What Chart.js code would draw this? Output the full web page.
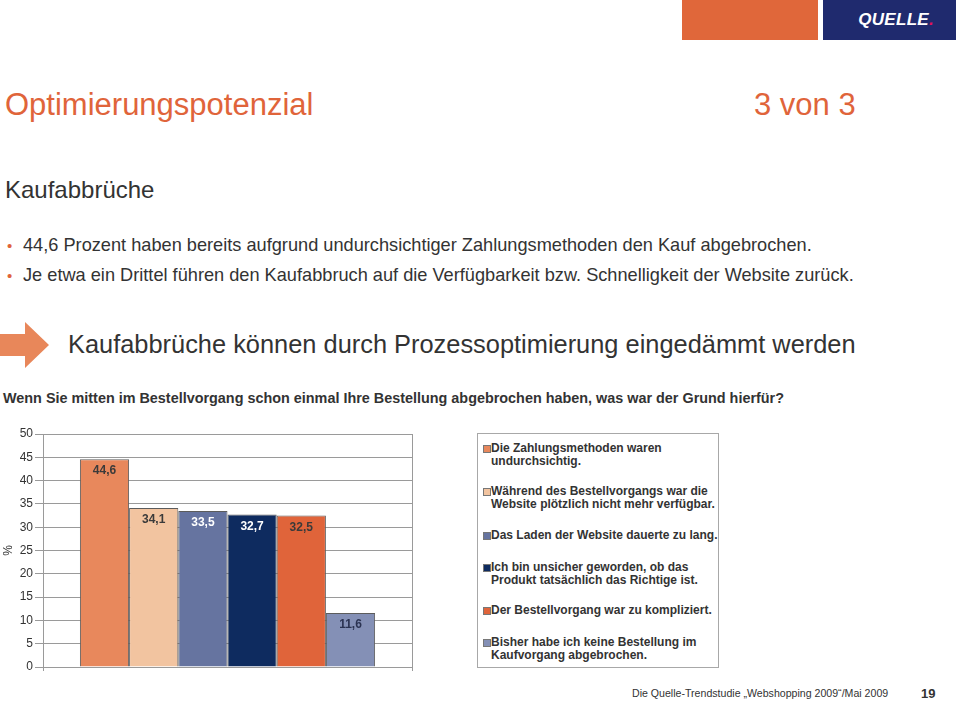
<!DOCTYPE html>
<html lang="de">
<head>
<meta charset="utf-8">
<script src="https://cdn.jsdelivr.net/npm/chart.js@4/dist/chart.umd.min.js"></script>
<style>
  html, body { margin: 0; padding: 0; background: #fff; }
  body { width: 960px; height: 701px; position: relative; overflow: hidden; font-family: "Liberation Sans", Arial, sans-serif; color: #333; }
  .abs { position: absolute; white-space: nowrap; }
  #hdrOrange { left: 682px; top: 0; width: 136px; height: 40px; background: #e0673a; }
  #hdrLogo { left: 823px; top: 0; width: 133px; height: 40px; background: #1f2a6e; color: #fff; font-weight: bold; font-style: italic; font-size: 17px; line-height: 40px; text-align: right; box-sizing: border-box; padding-right: 22px; letter-spacing: 0.3px; }
  #hdrLogo span { color: #e2105a; }
  #title { left: 5px; top: 87px; font-size: 31px; color: #e0643a; }
  #page { left: 754px; top: 87px; font-size: 31px; color: #e0643a; }
  #sub { left: 5px; top: 176px; font-size: 24px; color: #333; }
  .bullet { left: 23px; font-size: 18.2px; color: #333; }
  .bullet::before { content: "•"; color: #e0643a; position: absolute; left: -16px; font-size: 15px; top: 2px; }
  #arrow { left: 0; top: 322px; width: 50px; height: 46px; }
  #head2 { left: 68px; top: 330px; font-size: 25.4px; color: #333; }
  #question { left: 3px; top: 390px; font-size: 14.4px; font-weight: bold; color: #333; }
  #chartBox { left: 0; top: 420px; width: 470px; height: 262px; }
  #legend { left: 477px; top: 433px; width: 242px; height: 235px; border: 1px solid #a8a8a8; box-sizing: border-box; }
  .li { position: absolute; left: 13px; font-size: 12px; font-weight: bold; line-height: 13px; color: #333; white-space: nowrap; }
  .li i { position: absolute; left: -8px; top: 3px; width: 6px; height: 6px; border: 0.5px solid #777; }
  #foot { left: 632px; top: 687px; font-size: 10.6px; color: #333; }
  #pnum { left: 921px; top: 686px; font-size: 13px; font-weight: bold; color: #333; }
</style>
</head>
<body>
<div class="abs" id="hdrOrange"></div>
<div class="abs" id="hdrLogo">QUELLE<span>.</span></div>
<div class="abs" id="title">Optimierungspotenzial</div>
<div class="abs" id="page">3 von 3</div>
<div class="abs" id="sub">Kaufabbrüche</div>
<div class="abs bullet" style="top:235px">44,6 Prozent haben bereits aufgrund undurchsichtiger Zahlungsmethoden den Kauf abgebrochen.</div>
<div class="abs bullet" style="top:265px">Je etwa ein Drittel führen den Kaufabbruch auf die Verfügbarkeit bzw. Schnelligkeit der Website zurück.</div>
<svg class="abs" id="arrow" viewBox="0 0 50 46"><polygon points="0,12 25,12 25,0 49,23 25,46 25,34 0,34" fill="#e8875a"/></svg>
<div class="abs" id="head2">Kaufabbrüche können durch Prozessoptimierung eingedämmt werden</div>
<div class="abs" id="question">Wenn Sie mitten im Bestellvorgang schon einmal Ihre Bestellung abgebrochen haben, was war der Grund hierfür?</div>
<div class="abs" id="chartBox"><canvas id="chart"></canvas></div>
<div class="abs" id="legend"></div>
<div class="abs" id="foot">Die Quelle-Trendstudie „Webshopping 2009“/Mai 2009</div>
<div class="abs" id="pnum">19</div>

<script>
// Daten
const categories = [''];
const reasons = [
  ['Die Zahlungsmethoden waren', 'undurchsichtig.'],
  ['Während des Bestellvorgangs war die', 'Website plötzlich nicht mehr verfügbar.'],
  ['Das Laden der Website dauerte zu lang.'],
  ['Ich bin unsicher geworden, ob das', 'Produkt tatsächlich das Richtige ist.'],
  ['Der Bestellvorgang war zu kompliziert.'],
  ['Bisher habe ich keine Bestellung im', 'Kaufvorgang abgebrochen.']
];
const values = [44.6, 34.1, 33.5, 32.7, 32.5, 11.6];
const yTicks = [0, 5, 10, 15, 20, 25, 30, 35, 40, 45, 50];

const barColors = ['#e8885c', '#f2c4a0', '#6674a0', '#0e2b5f', '#e0643a', '#8490b6'];
const labelColors = ['#3a3a3a', '#3a3a3a', '#ffffff', '#ffffff', '#3a3a3a', '#2b3352'];
const legendTops = [8, 51, 95, 127, 170, 202];

const fmt = v => v.toFixed(1).replace('.', ',');

// Werte in den Balken
const valueLabels = {
  id: 'valueLabels',
  afterDatasetsDraw(chart) {
    const ctx = chart.ctx;
    ctx.save();
    ctx.font = 'bold 12px "Liberation Sans", Arial, sans-serif';
    ctx.textAlign = 'center';
    ctx.textBaseline = 'middle';
    chart.data.datasets.forEach((ds, i) => {
      const bar = chart.getDatasetMeta(i).data[0];
      ctx.fillStyle = labelColors[i];
      ctx.fillText(fmt(ds.data[0]), bar.x, bar.y + 12);
    });
    ctx.restore();
  }
};

new Chart(document.getElementById('chart'), {
  type: 'bar',
  data: {
    labels: categories,
    datasets: values.map((v, i) => ({
      label: reasons[i].join(' '),
      data: [v],
      backgroundColor: barColors[i],
      borderColor: '#5c5c5c',
      borderWidth: 1,
      barPercentage: 1,
      categoryPercentage: 0.8
    }))
  },
  options: {
    responsive: true,
    maintainAspectRatio: false,
    animation: false,
    layout: { padding: { top: 14, right: 58, bottom: 11, left: 0 } },
    plugins: { legend: { display: false }, tooltip: { enabled: false } },
    scales: {
      x: {
        ticks: { display: false },
        grid: { color: '#9a9a9a', tickLength: 4, drawOnChartArea: true },
        border: { color: '#9a9a9a' },
        afterFit: s => { s.height = 4; }
      },
      y: {
        min: yTicks[0],
        max: yTicks[yTicks.length - 1],
        afterBuildTicks: s => { s.ticks = yTicks.map(v => ({ value: v })); },
        ticks: { color: '#333', font: { family: '"Liberation Sans", Arial, sans-serif', size: 12 }, padding: 2 },
        grid: { color: '#9a9a9a', tickLength: 8 },
        border: { color: '#9a9a9a' },
        title: { display: true, text: '%', color: '#333', font: { family: '"Liberation Sans", Arial, sans-serif', size: 12 }, padding: { top: 1, bottom: 0 } },
        afterFit: s => { s.width = 43; }
      }
    }
  },
  plugins: [valueLabels]
});

// Legende
const legend = document.getElementById('legend');
reasons.forEach((lines, i) => {
  const el = document.createElement('div');
  el.className = 'li';
  el.style.top = legendTops[i] + 'px';
  el.innerHTML = `<i style="background:${barColors[i]}"></i>` + lines.join('<br>');
  legend.appendChild(el);
});
</script>
</body>
</html>
